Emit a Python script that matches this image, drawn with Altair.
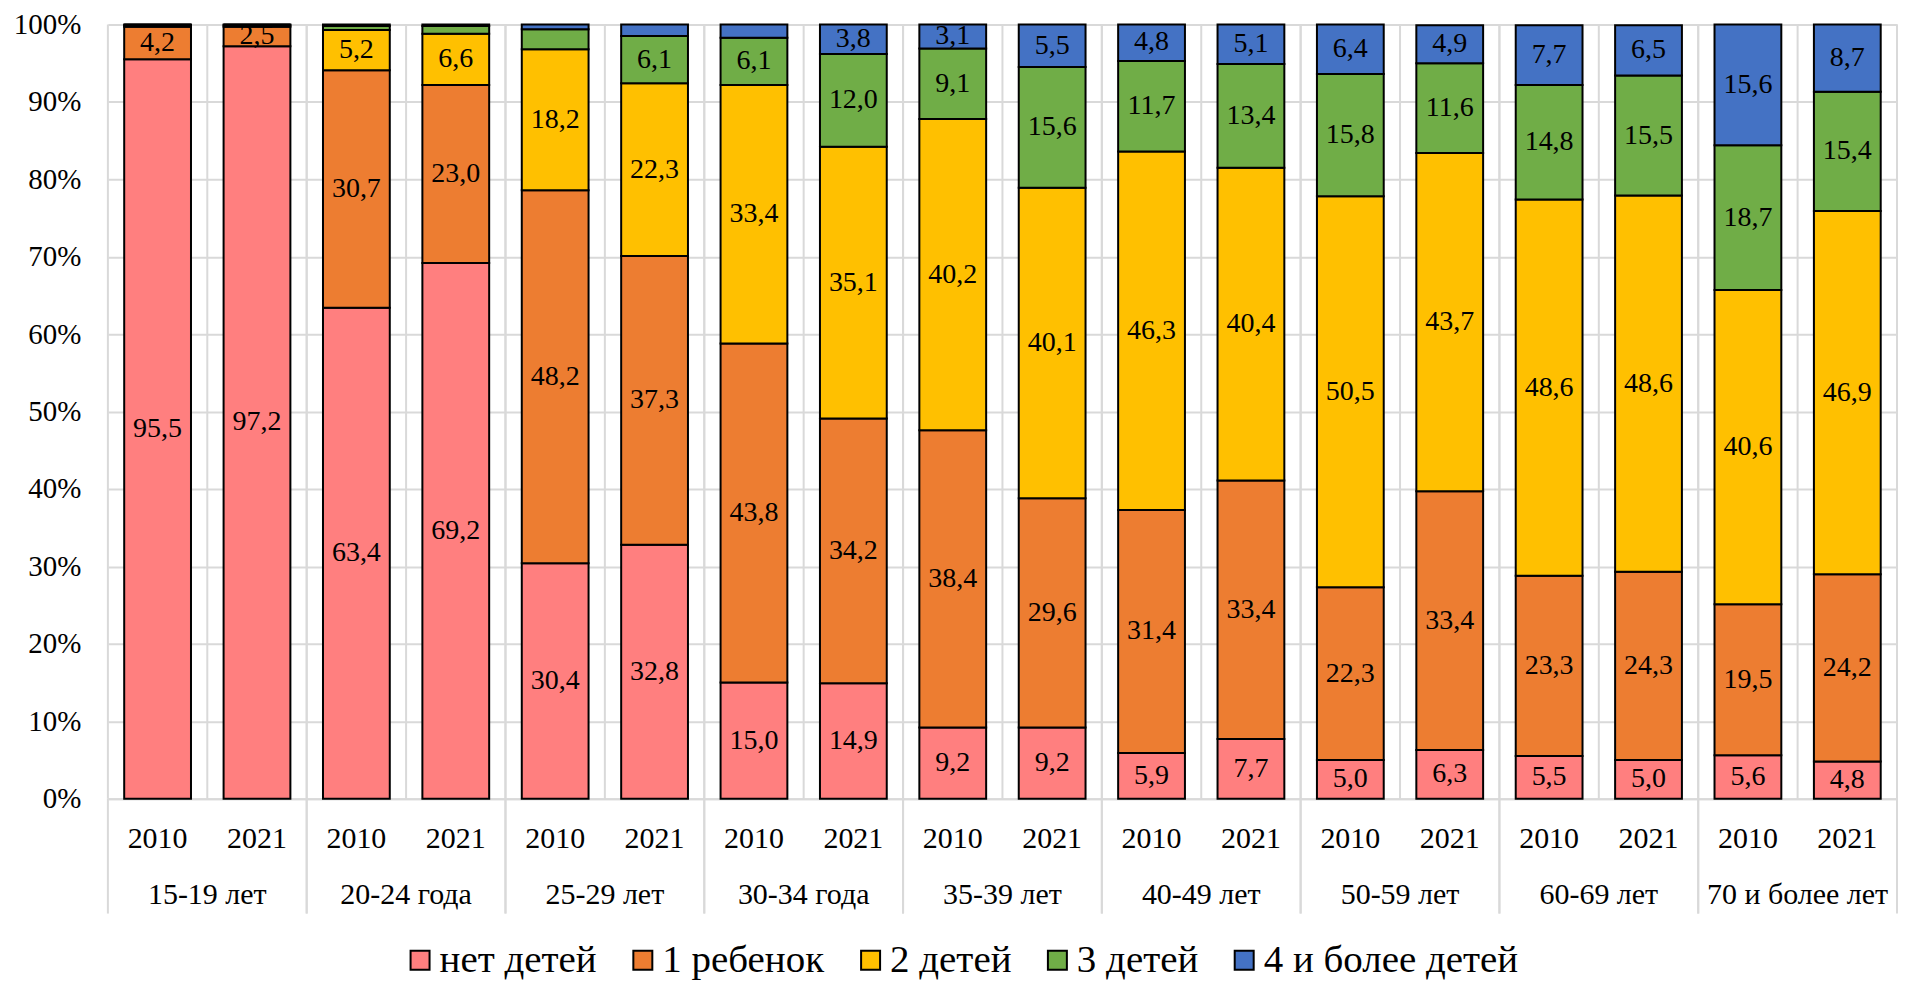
import altair as alt
import pandas as pd

groups = ["15-19 лет", "20-24 года", "25-29 лет", "30-34 года", "35-39 лет",
          "40-49 лет", "50-59 лет", "60-69 лет", "70 и более лет"]
years = ["2010", "2021"]
series = ["нет детей", "1 ребенок", "2 детей", "3 детей", "4 и более детей"]
colors = ["#FF7F7F", "#ED7D31", "#FFC000", "#70AD47", "#4472C4"]

# values per bar, in order: group1 2010, group1 2021, group2 2010, ...
no_children = [95.5, 97.2, 63.4, 69.2, 30.4, 32.8, 15.0, 14.9, 9.2, 9.2,
               5.9, 7.7, 5.0, 6.3, 5.5, 5.0, 5.6, 4.8]
one_child = [4.2, 2.5, 30.7, 23.0, 48.2, 37.3, 43.8, 34.2, 38.4, 29.6,
             31.4, 33.4, 22.3, 33.4, 23.3, 24.3, 19.5, 24.2]
two_children = [0.2, 0.2, 5.2, 6.6, 18.2, 22.3, 33.4, 35.1, 40.2, 40.1,
                46.3, 40.4, 50.5, 43.7, 48.6, 48.6, 40.6, 46.9]
three_children = [0.1, 0.1, 0.5, 1.0, 2.6, 6.1, 6.1, 12.0, 9.1, 15.6,
                  11.7, 13.4, 15.8, 11.6, 14.8, 15.5, 18.7, 15.4]
four_plus = [0.0, 0.0, 0.2, 0.2, 0.6, 1.5, 1.7, 3.8, 3.1, 5.5,
             4.8, 5.1, 6.4, 4.9, 7.7, 6.5, 15.6, 8.7]

MIN_LABEL = 2.5
unlabeled = [("25-29 лет", "2010", "3 детей")]

values_by_series = [no_children, one_child, two_children, three_children, four_plus]
cats = [f"{g} {y}" for g in groups for y in years]

rows = []
for si, s in enumerate(series):
    for ci, v in enumerate(values_by_series[si]):
        g = groups[ci // len(years)]
        y = years[ci % len(years)]
        rows.append(dict(cat=f"{g} {y}", group=g, year=y, series=s, idx=si, value=v,
                         show=bool(v >= MIN_LABEL and (g, y, s) not in unlabeled)))
df = pd.DataFrame(rows)
cat_df = pd.DataFrame({"cat": cats, "year": [c[-4:] for c in cats]})
grp_df = pd.DataFrame({"group": groups,
                       "first": [f"{g} {years[0]}" for g in groups],
                       "last": [f"{g} {years[-1]}" for g in groups]})

W, H = 1791, 775
FONT = "Liberation Serif"
GRID = "#d9d9d9"

xscale = alt.Scale(type="band", paddingInner=0, paddingOuter=0)

vgrid = alt.Chart(cat_df).mark_rule(color=GRID, strokeWidth=2).encode(
    x=alt.X("cat:N", sort=cats, scale=xscale, bandPosition=0),
    y=alt.value(0), y2=alt.value(H))

sep_end = alt.Chart(grp_df).mark_rule(color=GRID, strokeWidth=2).encode(
    x=alt.X("last:N", sort=cats, scale=xscale, bandPosition=1),
    y=alt.value(0), y2=alt.value(H + 115))

sep_start = alt.Chart(grp_df).mark_rule(color=GRID, strokeWidth=2).encode(
    x=alt.X("first:N", sort=cats, scale=xscale, bandPosition=0),
    y=alt.value(H), y2=alt.value(H + 115))

bars = alt.Chart(df).mark_bar(stroke="black", strokeWidth=2,
                              width=alt.RelativeBandSize(0.672)).encode(
    x=alt.X("cat:N", sort=cats, scale=xscale, title=None,
            axis=alt.Axis(labels=False, grid=False, domain=True, domainColor=GRID,
                          domainWidth=2, ticks=False, tickSize=0)),
    y=alt.Y("value:Q", stack="zero", title=None,
            scale=alt.Scale(domain=[0, 100], nice=False, clamp=True),
            axis=alt.Axis(values=list(range(0, 101, 10)), labelExpr="datum.value + '%'",
                          grid=True, gridColor=GRID, gridWidth=2, domain=False,
                          ticks=False, tickSize=0, labelFont=FONT, labelFontSize=29,
                          labelColor="black", labelPadding=27)),
    color=alt.Color("series:N", scale=alt.Scale(domain=series, range=colors),
                    legend=alt.Legend(orient="none", legendX=293, legendY=H + 142,
                                      direction="horizontal", title=None,
                                      labelFont=FONT, labelFontSize=39, labelColor="black",
                                      labelLimit=600,
                                      symbolType="square", symbolSize=361,
                                      symbolStrokeColor="black", symbolStrokeWidth=2,
                                      symbolOpacity=1, labelOffset=0, columnPadding=26,
                                      padding=0)),
    order=alt.Order("idx:Q", sort="ascending"),
)

labels = alt.Chart(df).transform_stack(
    stack="value", groupby=["cat"], as_=["v0", "v1"],
    sort=[alt.SortField("idx", order="ascending")]
).transform_filter("datum.show").transform_calculate(
    mid="(datum.v0 + datum.v1) / 2",
    txt="replace(format(datum.value, '.1f'), '.', ',')"
).mark_text(font=FONT, fontSize=28, color="black", baseline="middle").encode(
    x=alt.X("cat:N", sort=cats, scale=xscale),
    y=alt.Y("mid:Q"),
    text="txt:N")

ylabels = alt.Chart(cat_df).mark_text(font=FONT, fontSize=30, color="black",
                                      baseline="alphabetic").encode(
    x=alt.X("cat:N", sort=cats, scale=xscale),
    y=alt.value(H + 49),
    text="year:N")

glabels = alt.Chart(grp_df).mark_text(font=FONT, fontSize=30, color="black",
                                      baseline="alphabetic").encode(
    x=alt.X("last:N", sort=cats, scale=xscale, bandPosition=0),
    y=alt.value(H + 105),
    text="group:N")

chart = alt.layer(vgrid, sep_end, sep_start, bars, labels, ylabels, glabels).properties(
    width=W, height=H, padding={"left": 5, "top": 2, "right": 5, "bottom": 5},
    background="white"
).configure_view(stroke=None)

chart.save("out.html", embed_options={"renderer": "svg", "actions": False})
